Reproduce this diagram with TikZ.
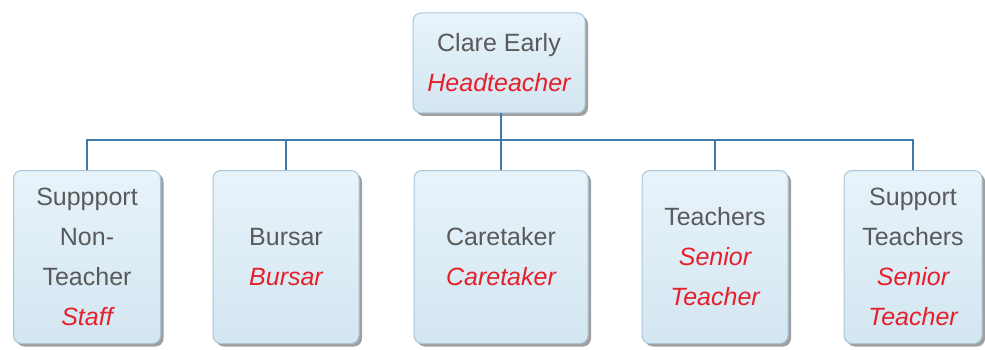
\documentclass[tikz,border=0pt]{standalone}
\usepackage{fontspec}
\setmainfont{Liberation Sans}
\usetikzlibrary{shadows}
\definecolor{namegray}{HTML}{5A5A5A}
\definecolor{rolered}{HTML}{E5202B}
\definecolor{boxline}{HTML}{A9C5D8}
\definecolor{boxtop}{HTML}{E8F3FA}
\definecolor{boxbottom}{HTML}{D3E6F1}
\definecolor{linkblue}{HTML}{3D79A9}
\newcommand{\role}[1]{{\color{rolered}\itshape #1}}
\begin{document}
\begin{tikzpicture}[x=1pt,y=-1pt]
      \tikzset{person/.style={draw=boxline, line width=1pt, rounded corners=8pt, top color=boxtop, bottom color=boxbottom,
          drop shadow={shadow xshift=3pt, shadow yshift=-3pt, fill=black!50, opacity=.75},
          align=center, text=namegray, inner sep=0pt, font=\fontsize{25}{40}\selectfont},
        link/.style={draw=linkblue, line width=1.1pt}}
      \useasboundingbox (0,0) rectangle (985,350);
%% Boxes
      	\node[person, minimum width=172pt, minimum height=100pt] (head) at (499,63) {Clare Early\\\role{Headteacher}};
      	\node[person, minimum width=147pt, minimum height=173pt] (staff) at (87,257) {Suppport\\Non-\\Teacher\\\role{Staff}};
      	\node[person, minimum width=146pt, minimum height=173pt] (bursar) at (286,257) {Bursar\\\role{Bursar}};
      	\node[person, minimum width=174pt, minimum height=173pt] (caretaker) at (501,257) {Caretaker\\\role{Caretaker}};
      	\node[person, minimum width=146pt, minimum height=173pt] (teachers) at (715,257) {Teachers\\\role{Senior}\\\role{Teacher}};
      	\node[person, minimum width=138pt, minimum height=173pt] (support) at (913,257) {Support\\Teachers\\\role{Senior}\\\role{Teacher}};
%% Links
      	\coordinate (bar) at (501,140);
		\draw[link] (head.south -| bar) -- (bar);
		\draw[link] (bar) -| (staff.north);
		\draw[link] (bar) -| (bursar.north);
		\draw[link] (bar) -- (caretaker.north -| bar);
		\draw[link] (bar) -| (teachers.north);
		\draw[link] (bar) -| (support.north);
	\end{tikzpicture}
\end{document}
